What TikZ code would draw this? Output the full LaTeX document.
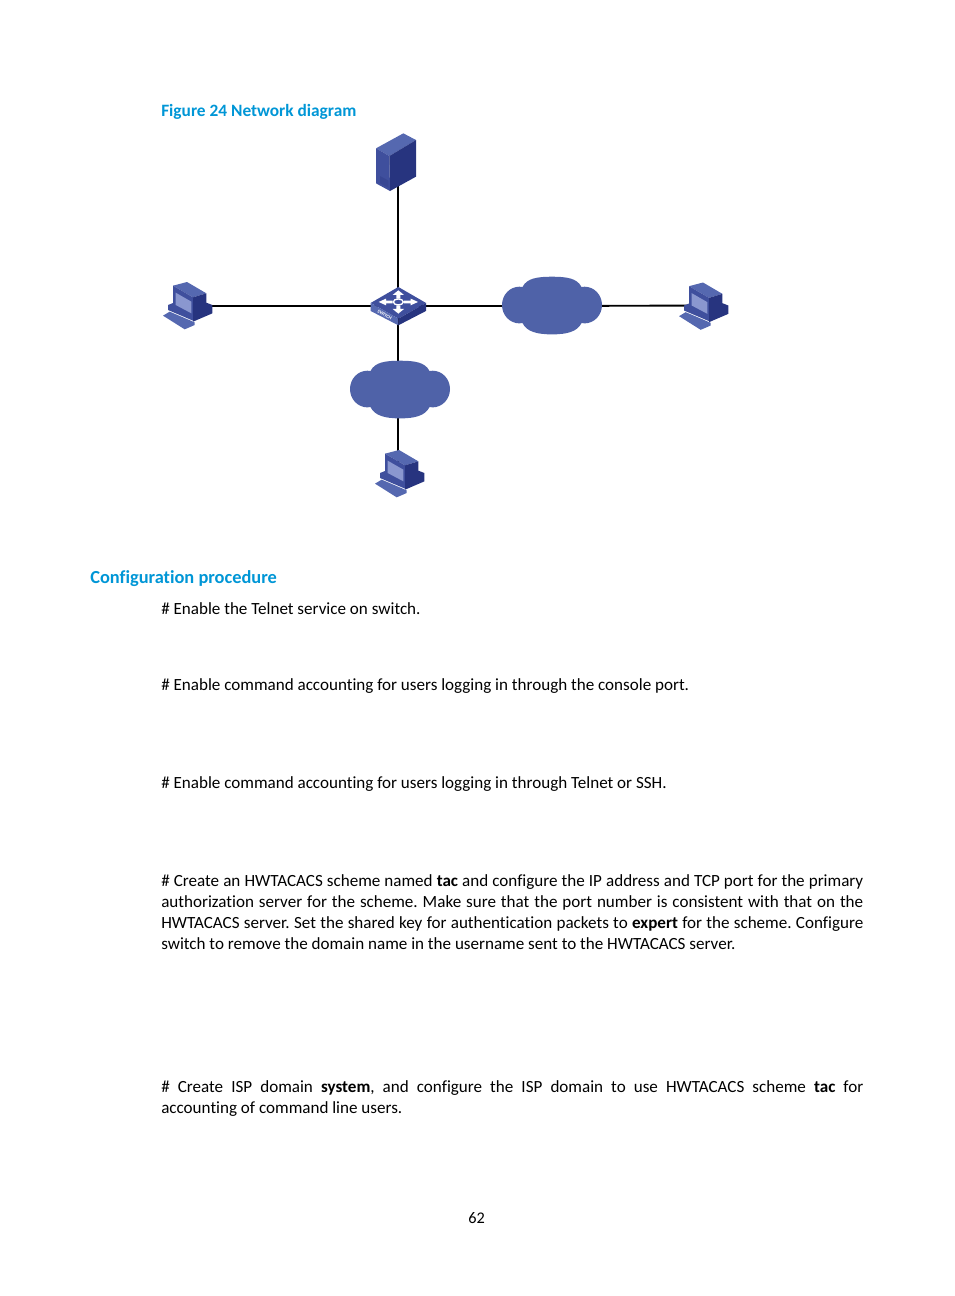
\documentclass[tikz,border=0pt]{standalone}
\usepackage{fontspec}
\usepackage{xcolor}
\setmainfont[Ligatures=CommonOff]{Carlito}
\usetikzlibrary{positioning}
\definecolor{headblue}{HTML}{0096D6}
\definecolor{devmid}{HTML}{3F4F9D}
\definecolor{devdark}{HTML}{27347F}
\definecolor{devlight}{HTML}{5568B0}
\definecolor{devscreen}{HTML}{8A97CF}
\definecolor{cloudblue}{HTML}{4F62A8}

\begin{document}
\frenchspacing
\begin{tikzpicture}[
  x=0.75pt, y=-0.75pt,
  link/.style={draw=black, line width=1.4pt},
  dev/.style={inner sep=0pt, minimum size=0pt},
  caption/.style={anchor=base west, inner sep=0pt, text=headblue, font=\fontsize{13}{16}\selectfont\bfseries},
  body/.style={anchor=base west, inner sep=0pt, font=\fontsize{12.8}{15.75}\selectfont},
  para/.style={anchor=base west, text width=526.5pt, align=justify, inner sep=0pt,
    font=\fontsize{12.8}{15.75}\selectfont},
  pcicon/.pic={
    \begin{scope}[shift={(-38.3,-35)}, x=0.25pt, y=-0.25pt]
      \fill[devmid] (55,105) -- (75,97) -- (130,120) -- (130,152) -- (55,120) -- cycle;
      \fill[devdark] (130,125) -- (170,98) -- (188,105) -- (188,130) -- (130,155) -- cycle;
      \fill[devlight] (40,137) -- (60,125) -- (135,157) -- (135,165) -- (105,178) -- cycle;
      \fill[devlight] (70,47) -- (112,36) -- (170,70) -- (130,82) -- cycle;
      \fill[devmid] (70,47) -- (130,82) -- (130,135) -- (70,102) -- cycle;
      \fill[devdark] (130,82) -- (170,70) -- (170,114) -- (130,135) -- cycle;
      \fill[devscreen] (78,68) -- (125,95) -- (125,130) -- (78,105) -- cycle;
    \end{scope}
  },
  servericon/.pic={
    \begin{scope}[shift={(-58,-42)}, x=0.25pt, y=-0.25pt]
      \fill[devlight] (108,85) -- (190,40) -- (228,60) -- (148,108) -- cycle;
      \fill[devmid] (108,85) -- (148,108) -- (150,213) -- (108,190) -- cycle;
      \fill[devdark] (148,108) -- (228,60) -- (228,170) -- (150,213) -- cycle;
      \fill[devdark, opacity=.3] (120,168) -- (146,182) -- (146,204) -- (120,190) -- cycle;
    \end{scope}
  },
  switchicon/.pic={
    \begin{scope}[shift={(-58,-185.7)}, x=0.25pt, y=-0.25pt]
      \fill[devmid] (92,548) -- (175,500) -- (258,548) -- (175,595) -- cycle;
      \fill[devlight] (92,548) -- (175,595) -- (175,615) -- (92,572) -- cycle;
      \fill[devdark] (175,595) -- (258,548) -- (258,572) -- (175,615) -- cycle;
      \draw[white, line width=1pt] (175,545) ellipse (15 and 9);
      \fill[white] (175,510) -- (192,524) -- (181,524) -- (181,535) -- (169,535) -- (169,524) -- (158,524) -- cycle;
      \fill[white] (175,580) -- (192,566) -- (181,566) -- (181,555) -- (169,555) -- (169,566) -- (158,566) -- cycle;
      \fill[white] (116,545) -- (138,535) -- (138,541) -- (158,541) -- (158,549) -- (138,549) -- (138,555) -- cycle;
      \fill[white] (234,545) -- (212,535) -- (212,541) -- (192,541) -- (192,549) -- (212,549) -- (212,555) -- cycle;
      \node[rotate=-29, text=white, inner sep=0pt, font=\fontsize{3.6}{4}\selectfont\bfseries] at (134,583) {SWITCH};
    \end{scope}
  },
  cloudicon/.pic={
    \begin{scope}[shift={(-60,-38.3)}, x=0.25pt, y=-0.25pt]
      \fill[cloudblue] (82,115) ellipse (52 and 55);
      \fill[cloudblue] (278,115) ellipse (52 and 55);
      \fill[cloudblue] (92,60) .. controls (105,35) and (135,30) .. (180,30)
        .. controls (225,30) and (255,35) .. (268,60) -- (268,170)
        .. controls (255,195) and (225,203) .. (180,203)
        .. controls (135,203) and (105,195) .. (92,170) -- cycle;
    \end{scope}
  }
]
\useasboundingbox (0,0) rectangle (954,1296);

% Devices
\node[dev] (server) at (398,162) {};
\node[dev] (switch) at (398,306) {};
\node[dev] (pcleft) at (188,306) {};
\node[dev] (cloudright) at (552,306) {};
\node[dev] (pcright) at (704,305.5) {};
\node[dev] (cloudbottom) at (398,389) {};
\node[dev] (pcbottom) at (398,473) {};

% Links
\draw[link] (server) -- (switch);
\draw[link] (pcleft) -- (switch);
\draw[link] (switch) -- (cloudright);
\draw[link] (cloudright) -- (pcright);
\draw[link] (switch) -- (cloudbottom);
\draw[link] (cloudbottom) -- (pcbottom);

% Icons
\pic at (server) {servericon};
\pic at (switch) {switchicon};
\pic at ([yshift=0.75pt]pcleft) {pcicon};
\pic at (pcright) {pcicon};
\pic at ([yshift=0.75pt]cloudright) {cloudicon};
\pic at ([xshift=1.5pt]cloudbottom) {cloudicon};
\pic at ([xshift=1.5pt]pcbottom) {pcicon};

% Text
\node[caption] (figcap) at (161,116) {Figure 24 Network diagram};
\node[caption, font=\fontsize{13.8}{18}\selectfont\bfseries] (prochead) at (90,583) {Configuration procedure};
\node[body] (step1) at (161,614) {\# Enable the Telnet service on switch.};
\node[body] (step2) at (161,690) {\# Enable command accounting for users logging in through the console port.};
\node[body] (step3) at (161,788) {\# Enable command accounting for users logging in through Telnet or SSH.};
\node[para] (step4) at (161,886) {\# Create an HWTACACS scheme named \textbf{tac} and configure the IP address and TCP port for the primary\linebreak
  authorization server for the scheme. Make sure that the port number is consistent with that on the\linebreak
  HWTACACS server. Set the shared key for authentication packets to \textbf{expert} for the scheme. Configure\linebreak
  switch to remove the domain name in the username sent to the HWTACACS server.};
\node[para] (step5) at (161,1092) {\# Create ISP domain \textbf{system}, and configure the ISP domain to use HWTACACS scheme \textbf{tac} for\linebreak
  accounting of command line users.};
\node[body, font=\fontsize{12.2}{15}\selectfont] (pageno) at (468,1223) {62};
\end{tikzpicture}
\end{document}
